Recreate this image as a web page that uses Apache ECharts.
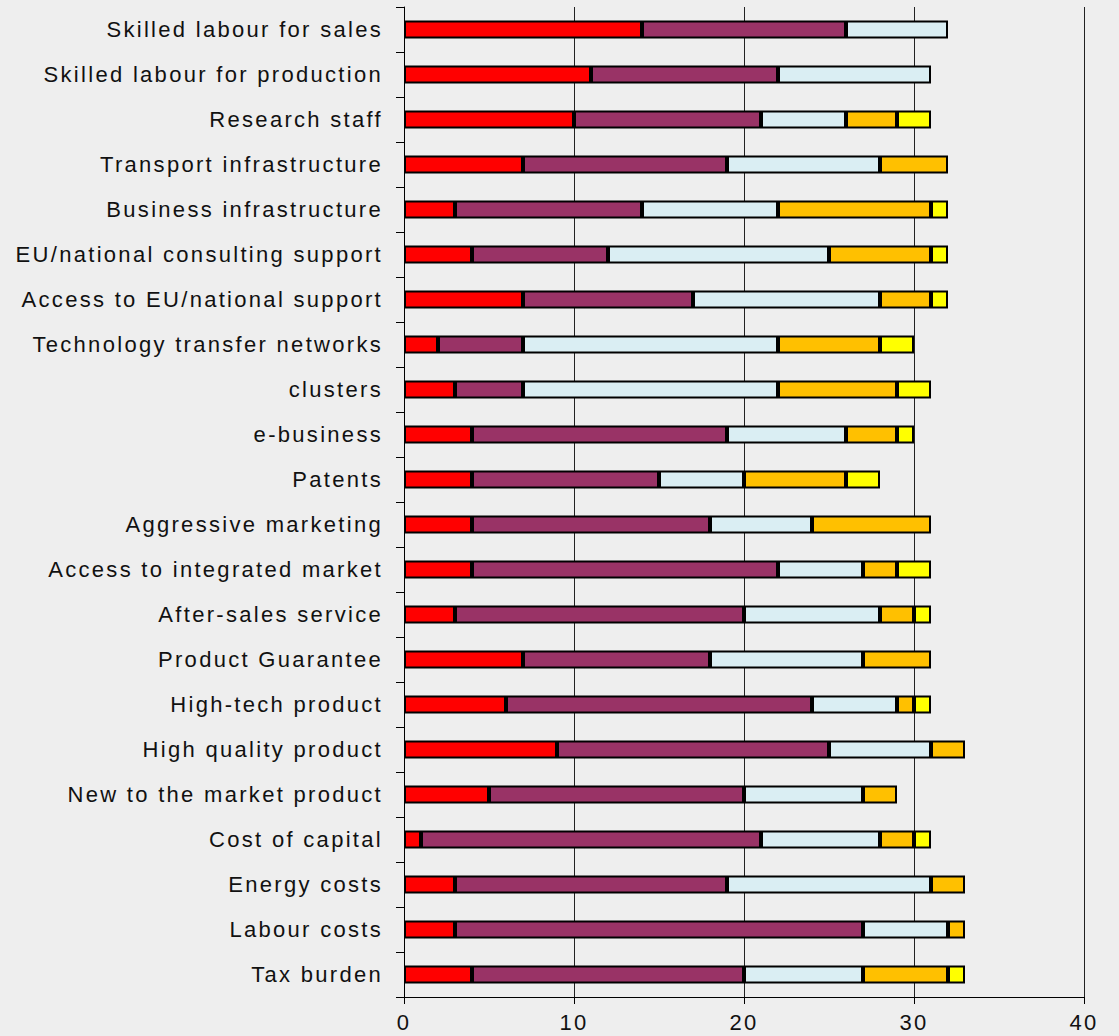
<!DOCTYPE html>
<html>
<head>
<meta charset="utf-8">
<script src="https://cdn.jsdelivr.net/npm/echarts@6/dist/echarts.min.js"></script>
<style>
html,body{margin:0;padding:0;background:#eeeeee;}
#chart{width:1119px;height:1036px;}
#chart svg text{letter-spacing:2.3px;}
</style>
</head>
<body>
<div id="chart"></div>
<script>
const categories = [
  "Skilled labour for sales",
  "Skilled labour for production",
  "Research staff",
  "Transport infrastructure",
  "Business infrastructure",
  "EU/national consulting support",
  "Access to EU/national support",
  "Technology transfer networks",
  "clusters",
  "e-business",
  "Patents",
  "Aggressive marketing",
  "Access to integrated market",
  "After-sales service",
  "Product Guarantee",
  "High-tech product",
  "High quality product",
  "New to the market product",
  "Cost of capital",
  "Energy costs",
  "Labour costs",
  "Tax burden"
];
const seriesRed    = [14,11,10, 7, 3, 4, 7, 2, 3, 4, 4, 4, 4, 3, 7, 6, 9, 5, 1, 3, 3, 4];
const seriesPurple = [12,11,11,12,11, 8,10, 5, 4,15,11,14,18,17,11,18,16,15,20,16,24,16];
const seriesBlue   = [ 6, 9, 5, 9, 8,13,11,15,15, 7, 5, 6, 5, 8, 9, 5, 6, 7, 7,12, 5, 7];
const seriesOrange = [ 0, 0, 3, 4, 9, 6, 3, 6, 7, 3, 6, 7, 2, 2, 4, 1, 2, 2, 2, 2, 1, 5];
const seriesYellow = [ 0, 0, 2, 0, 1, 1, 1, 2, 2, 1, 2, 0, 2, 1, 0, 1, 0, 0, 1, 0, 0, 1];
const xTicks = [0, 10, 20, 30, 40];

const colors = ["#ff0000", "#993366", "#daeef3", "#ffc000", "#ffff00"];
const allSeries = [seriesRed, seriesPurple, seriesBlue, seriesOrange, seriesYellow];

const chart = echarts.init(document.getElementById('chart'), null, { renderer: 'svg' });
chart.setOption({
  backgroundColor: '#eeeeee',
  animation: false,
  grid: { left: 404, right: 35, top: 7, bottom: 39, containLabel: false },
  xAxis: {
    type: 'value',
    min: xTicks[0], max: xTicks[xTicks.length - 1], interval: 10,
    axisLine: { show: true, lineStyle: { color: '#000', width: 1 } },
    axisTick: { show: true, length: 7, lineStyle: { color: '#000' } },
    axisLabel: { color: '#111', fontSize: 22, fontFamily: 'Liberation Sans, Arial, sans-serif', margin: 14 },
    splitLine: { show: true, lineStyle: { color: '#222', width: 1 } }
  },
  yAxis: {
    type: 'category',
    data: categories,
    inverse: true,
    axisLine: { show: true, lineStyle: { color: '#000', width: 1 } },
    axisTick: { show: true, length: 8, lineStyle: { color: '#000' } },
    axisLabel: { color: '#111', fontSize: 22, fontFamily: 'Liberation Sans, Arial, sans-serif', margin: 21 },
    splitLine: { show: false }
  },
  series: allSeries.map((vals, i) => ({
    type: 'bar',
    stack: 'total',
    barWidth: 18,
    data: vals.map(v => v === 0 ? null : v),
    itemStyle: { color: colors[i], borderColor: '#000', borderWidth: 2 }
  }))
});
</script>
</body>
</html>
